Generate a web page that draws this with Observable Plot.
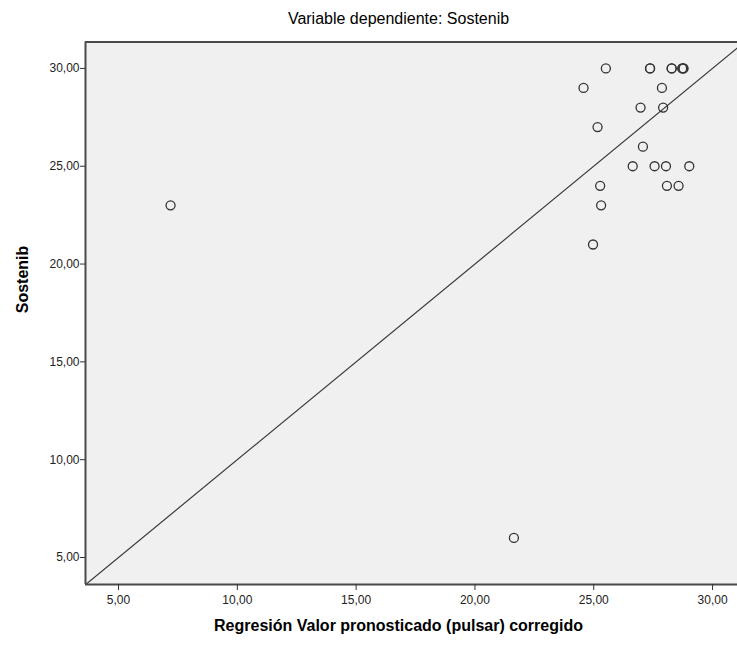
<!DOCTYPE html>
<html>
<head>
<meta charset="utf-8">
<script src="https://cdn.jsdelivr.net/npm/d3@7"></script>
<script src="https://cdn.jsdelivr.net/npm/@observablehq/plot@0.6"></script>
<style>
  html, body { margin: 0; padding: 0; background: #fff; overflow: hidden; }
  #chart svg { display: block; }
</style>
</head>
<body>
<div id="chart"></div>
<script>
// Predicted values (x) and observed Sostenib (y)
const predicted = [7.19, 21.64, 24.97, 25.31, 25.27, 28.08, 28.57,
  26.64, 27.56, 28.04, 29.02, 27.07, 25.16, 26.97, 27.92, 24.57, 27.87,
  25.51, 27.37, 27.37, 28.28, 28.28, 28.72, 28.78, 28.76];
const sostenib = [23, 6, 21, 23, 24, 24, 24,
  25, 25, 25, 25, 26, 27, 28, 28, 29, 29,
  30, 30, 30, 30, 30, 30, 30, 30];
const xTicks = [5, 10, 15, 20, 25, 30];
const yTicks = [5, 10, 15, 20, 25, 30];
const refLine = [0, 40]; // y = x reference line
const titleText = "Variable dependiente: Sostenib";
const xLabel = "Regresión Valor pronosticado (pulsar) corregido";
const yLabel = "Sostenib";

const points = predicted.map((x, i) => ({x, y: sostenib[i]}));
const xDomain = [3.61, 31.05];
const yDomain = [3.62, 31.35];
const fmt = d => d.toFixed(2).replace(".", ",");
const font = "'Liberation Sans', Arial, sans-serif";

const chart = Plot.plot({
  width: 737,
  height: 653,
  marginLeft: 85,
  marginRight: 0,
  marginTop: 41.5,
  marginBottom: 69,
  style: {fontFamily: font, fontSize: "12px", color: "#333", background: "#fff"},
  x: {domain: xDomain},
  y: {domain: yDomain},
  marks: [
    Plot.frame({fill: "#f0f0f0", stroke: null}),
    Plot.line(refLine.map(v => ({x: v, y: v})), {x: "x", y: "y", stroke: "#3a3a3a", strokeWidth: 1.2, clip: true}),
    Plot.dot(points, {x: "x", y: "y", r: 4.5, stroke: "#333", strokeWidth: 1.3, fill: "none"}),
    Plot.ruleY([yDomain[0], yDomain[1]], {stroke: "#4a4a4a", strokeWidth: 2}),
    Plot.ruleX([xDomain[0]], {stroke: "#4a4a4a", strokeWidth: 2}),
    Plot.axisX({ticks: xTicks, tickFormat: fmt, tickSize: 6, tickPadding: 5, label: null, stroke: "#333", fill: "#222", fontSize: 12}),
    Plot.axisY({ticks: yTicks, tickFormat: fmt, tickSize: 5, tickPadding: 1, label: null, stroke: "#333", fill: "#222", fontSize: 12}),
    Plot.text([titleText], {frameAnchor: "top", dx: -13, dy: -23, text: d => d, fontSize: 16, fill: "#000", lineAnchor: "middle"}),
    Plot.text([xLabel], {frameAnchor: "bottom", dx: -13, dy: 41, text: d => d, fontSize: 16, fontWeight: "bold", fill: "#000", lineAnchor: "middle"}),
    Plot.text([yLabel], {frameAnchor: "left", dx: -63, rotate: -90, text: d => d, fontSize: 16, fontWeight: "bold", fill: "#000", lineAnchor: "middle"})
  ]
});
document.getElementById("chart").appendChild(chart);
</script>
</body>
</html>
